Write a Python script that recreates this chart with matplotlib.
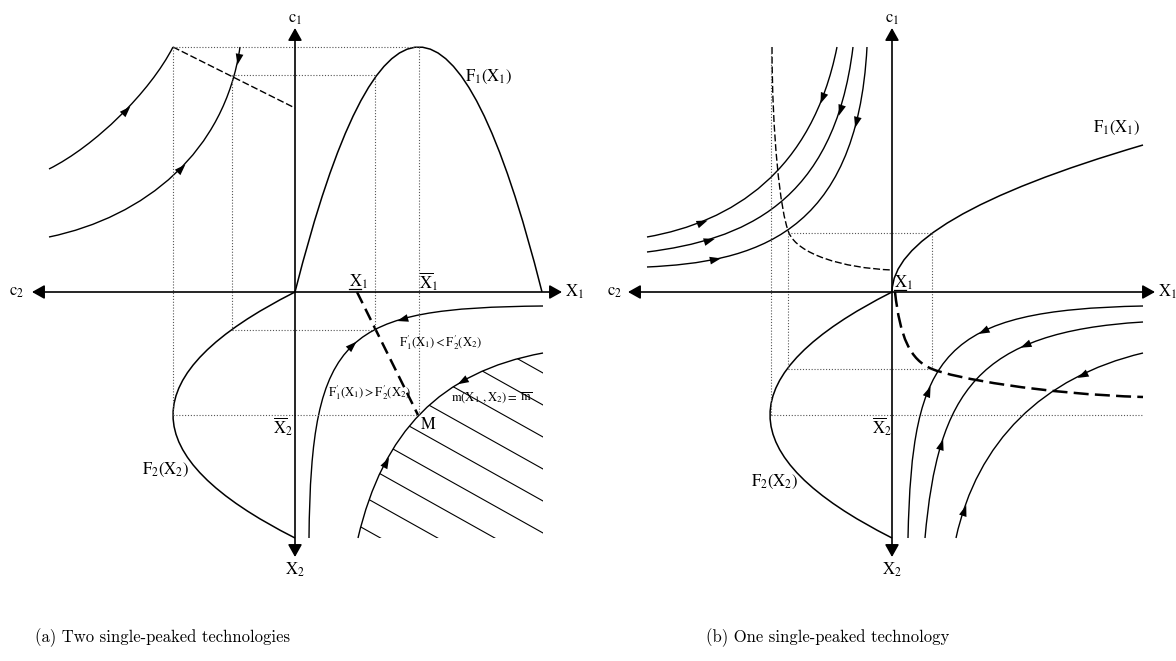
import numpy as np
import matplotlib
matplotlib.use("Agg")
import matplotlib.pyplot as plt
from matplotlib.path import Path
from matplotlib.patches import PathPatch
from matplotlib.markers import MarkerStyle

plt.rcParams['mathtext.fontset'] = 'stix'
plt.rcParams['font.family'] = ['Liberation Serif', 'DejaVu Serif']

# Units: screen pixels, origin at the crossing of the axes of each panel.
# Curves are Bezier control points.

# ---------- panel (a): two single-peaked technologies ----------
a_F1 = [(0, 0), (124, 490), (247, 0)]                # quadratic
a_F2 = [(0, 0), (-244, -123), (0, -246)]             # quadratic
a_top1 = [(-246, 123), (-200, 146), (-145, 200), (-122, 245)]
a_top2 = [(-246, 55), (-150, 75), (-70, 140), (-55, 245)]
a_low = [(14, -246), (16, -40), (50, -16), (248, -14)]
a_bound = [(63, -246), (88, -140), (145, -80), (248, -61)]
a_locus = [(62, 0), (123, -123)]
a_top_dash = [(-122, 245), (0, 184)]
a_guides = [((-122, 124), (245, 245)), ((-122, -122), (245, -123)),
            ((124, 124), (245, -123)), ((-122, 124), (-123, -123)),
            ((-63, 80), (217, 217)), ((-63, -63), (217, -38)),
            ((80, 80), (217, -38)), ((-63, 80), (-38, -38))]
# arrows: (curve, t, reversed)
a_arrows = [('top1', 0.55, False), ('top2', 0.53, False), ('top2', 0.96, True),
            ('low', 0.5, False), ('low', 0.69, True),
            ('bound', 0.27, False), ('bound', 0.7, True)]
a_hatch = [-81, -113, -145, -177, -209, -241, -273, -305, -337]
a_hatch_slope = -0.56

# ---------- panel (b): one single-peaked technology ----------
b_F1 = [(0, 0), (0, 73.5), (251, 147)]
b_F2 = [(0, 0), (-244, -123), (0, -246)]
b_thin = [(-120, 245), (-120, 160), (-112, 80), (-103, 59),
          (-94, 38), (-50, 24), (0, 22)]
b_thick = [(3, 0), (8, -45), (18, -68), (40, -77),
           (62, -86), (150, -102), (251, -105)]
b_T1 = [(-245, 55), (-160, 70), (-80, 120), (-55, 245)]
b_T2 = [(-245, 40), (-150, 52), (-58, 88), (-39, 245)]
b_T3 = [(-245, 25), (-140, 30), (-35, 55), (-25, 245)]
b_S1 = [(16, -246), (20, -60), (50, -18), (251, -14)]
b_S2 = [(33, -246), (46, -100), (85, -40), (251, -30)]
b_S3 = [(64, -246), (85, -150), (150, -85), (251, -61)]
b_guides = [((-121, -121), (245, -123)), ((-121, 251), (-123, -123)),
            ((-104, 40), (59, 59)), ((-104, -104), (59, -77)),
            ((40, 40), (59, -77)), ((-104, 40), (-77, -77))]
b_arrows = [('T1', 0.22, False), ('T1', 0.85, True),
            ('T2', 0.22, False), ('T2', 0.85, True),
            ('T3', 0.22, False), ('T3', 0.85, True),
            ('S1', 0.35, False), ('S1', 0.63, True),
            ('S2', 0.25, False), ('S2', 0.70, True),
            ('S3', 0.10, False), ('S3', 0.78, True)]

captions = ['(a) Two single-peaked technologies', '(b) One single-peaked technology']

W, H = 1176, 661
fig = plt.figure(figsize=(W / 100, H / 100), dpi=100)

HEAD = Path([(1, 0), (-1, 0.7), (-1, -0.7), (1, 0)],
            [Path.MOVETO, Path.LINETO, Path.LINETO, Path.CLOSEPOLY])


def panel(x0, x1, ox):
    ax = fig.add_axes([x0 / W, (H - 600) / H, (x1 - x0) / W, 600 / H])
    ax.set_xlim(x0 - ox, x1 - ox)
    ax.set_ylim(292 - 600, 292)
    ax.axis('off')
    return ax


def curve_path(pts):
    n = len(pts)
    if n == 2:
        codes = [Path.MOVETO, Path.LINETO]
    elif n == 3:
        codes = [Path.MOVETO, Path.CURVE3, Path.CURVE3]
    else:
        codes = [Path.MOVETO] + [Path.CURVE4] * (n - 1)
    return Path(pts, codes)


def curve(ax, pts, lw=1.0, ls='-'):
    p = PathPatch(curve_path(pts), fc='none', ec='k', lw=lw, ls=ls,
                  capstyle='butt')
    ax.add_patch(p)
    return p


def bez(pts, t):
    p = np.array(pts, float)
    c = np.array([(1 - t) ** 3, 3 * (1 - t) ** 2 * t, 3 * (1 - t) * t ** 2, t ** 3])
    d = 3 * ((1 - t) ** 2 * (p[1] - p[0]) + 2 * (1 - t) * t * (p[2] - p[1])
             + t ** 2 * (p[3] - p[2]))
    return c @ p, d


def heads(ax, curves, arrows):
    for name, t, rev in arrows:
        pos, d = bez(curves[name], t)
        if rev:
            d = -d
        ang = np.degrees(np.arctan2(d[1], d[0]))
        ax.plot(pos[0], pos[1], marker=MarkerStyle(HEAD).rotated(deg=ang),
                ms=8, color='k', mew=0, zorder=5)


def frame(ax, left, right, top, bottom):
    style = '<|-|>,head_length=0.75,head_width=0.42'
    ax.annotate('', xy=(right, 0), xytext=(left, 0),
                arrowprops=dict(arrowstyle=style, lw=1.2, color='k',
                                shrinkA=0, shrinkB=0))
    ax.annotate('', xy=(0, top), xytext=(0, bottom),
                arrowprops=dict(arrowstyle=style, lw=1.2, color='k',
                                shrinkA=0, shrinkB=0))


def guides(ax, segs):
    for xs, ys in segs:
        ax.plot(xs, ys, color='#555555', lw=0.8, ls=(0, (1, 1.6)))


def underline(ax, x, y, w=9):
    ax.plot([x - w, x + w * 0.3], [y, y], color='k', lw=0.9)


big = 12
small = 9

# ---------------- panel (a) ----------------
ax = panel(0, 590, 295)
frame(ax, -263, 267, 264, -265)
guides(ax, a_guides)
curve(ax, a_F1, lw=1.1)
curve(ax, a_F2, lw=1.1)
curve(ax, a_top1)
curve(ax, a_top2)
curve(ax, a_low)
curve(ax, a_top_dash, lw=1.0, ls=(0, (5, 2)))
curve(ax, a_locus, lw=1.8, ls=(0, (5, 2.5)))
curve(ax, a_bound)

# hatched region beyond m(X1,X2) = m
verts = a_bound + [(248, -246), a_bound[0]]
codes = [Path.MOVETO, Path.CURVE4, Path.CURVE4, Path.CURVE4, Path.LINETO, Path.CLOSEPOLY]
clip = PathPatch(Path(verts, codes), fc='none', ec='none', transform=ax.transData)
ax.add_patch(clip)
for c in a_hatch:
    ln, = ax.plot([0, 248], [c - a_hatch_slope * 248, c], color='k', lw=0.8)
    ln.set_clip_path(clip)

heads(ax, {'top1': a_top1, 'top2': a_top2, 'low': a_low, 'bound': a_bound}, a_arrows)

ax.text(0, 273, r'$\mathrm{c_1}$', fontsize=big, ha='center', va='center')
ax.text(-278, 0, r'$\mathrm{c_2}$', fontsize=big, ha='center', va='center')
ax.text(279, 0, r'$\mathrm{X_1}$', fontsize=big, ha='center', va='center')
ax.text(0, -278, r'$\mathrm{X_2}$', fontsize=big, ha='center', va='center')
ax.text(194, 215, r'$\mathrm{F_1(X_1)}$', fontsize=big, ha='center', va='center')
ax.text(-129, -178, r'$\mathrm{F_2(X_2)}$', fontsize=big, ha='center', va='center')
ax.text(63, 10, r'$\mathrm{X_1}$', fontsize=big, ha='center', va='center')
underline(ax, 63, 3)
ax.text(133, 10, r'$\mathrm{\overline{X}_1}$', fontsize=big, ha='center', va='center')
ax.text(-12, -135, r'$\mathrm{\overline{X}_2}$', fontsize=big, ha='center', va='center')
ax.text(133, -133, r'$\mathrm{M}$', fontsize=big, ha='center', va='center')
ax.text(145, -51, r"$\mathrm{F_1^{\prime}(X_1)<F_2^{\prime}(X_2)}$", fontsize=small,
        ha='center', va='center')
ax.text(74, -101, r"$\mathrm{F_1^{\prime}(X_1)>F_2^{\prime}(X_2)}$", fontsize=small,
        ha='center', va='center')
ax.text(197, -106, r"$\mathrm{m(X_1\ ,X_2)=\ \overline{m}}$", fontsize=small,
        ha='center', va='center')

# ---------------- panel (b) ----------------
ax = panel(590, 1176, 892)
frame(ax, -264, 263, 264, -265)
guides(ax, b_guides)
curve(ax, b_F1, lw=1.1)
curve(ax, b_F2, lw=1.1)
curve(ax, b_thin, lw=1.0, ls=(0, (5, 2)))
curve(ax, b_thick, lw=1.8, ls=(0, (6, 2.5)))
bcurves = {'T1': b_T1, 'T2': b_T2, 'T3': b_T3, 'S1': b_S1, 'S2': b_S2, 'S3': b_S3}
for pts in bcurves.values():
    curve(ax, pts)
heads(ax, bcurves, b_arrows)

ax.text(0, 273, r'$\mathrm{c_1}$', fontsize=big, ha='center', va='center')
ax.text(-277, 0, r'$\mathrm{c_2}$', fontsize=big, ha='center', va='center')
ax.text(266, 0, r'$\mathrm{X_1}$', fontsize=big, ha='left', va='center')
ax.text(0, -278, r'$\mathrm{X_2}$', fontsize=big, ha='center', va='center')
ax.text(225, 164, r'$\mathrm{F_1(X_1)}$', fontsize=big, ha='center', va='center')
ax.text(-117, -190, r'$\mathrm{F_2(X_2)}$', fontsize=big, ha='center', va='center')
ax.text(11, 9, r'$\mathrm{X_1}$', fontsize=big, ha='center', va='center')
underline(ax, 11, 2)
ax.text(-10, -135, r'$\mathrm{\overline{X}_2}$', fontsize=big, ha='center', va='center')

# captions
fig.text(163 / W, 1 - 638 / H, captions[0], family='cmr10', fontsize=12,
         ha='center', va='center')
fig.text(828 / W, 1 - 638 / H, captions[1], family='cmr10', fontsize=12,
         ha='center', va='center')

fig.savefig('out.png', dpi=100)
